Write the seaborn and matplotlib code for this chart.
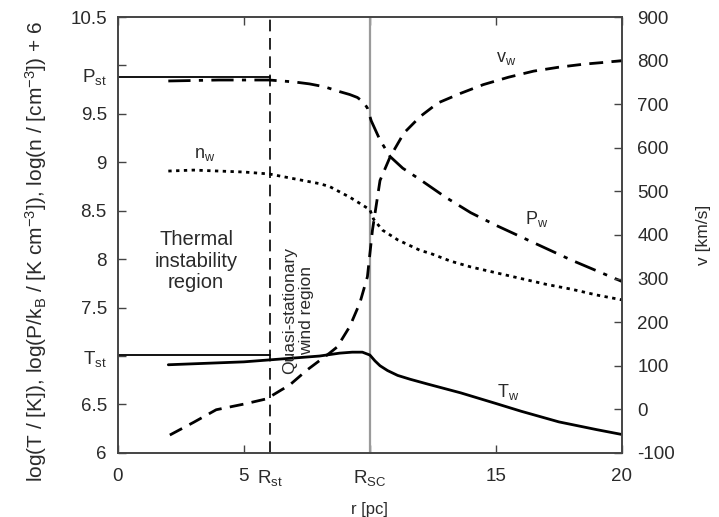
import numpy as np
import pandas as pd
import matplotlib
matplotlib.use("Agg")
import matplotlib.pyplot as plt
import matplotlib.transforms as mtransforms
import seaborn as sns

# ---- data ----
R_st = 6.05
R_sc = 10.0
P_st = 9.88
T_st = 7.01

r_P = [2.0, 3.0, 4.0, 5.0, 6.0, 7.0, 7.6, 8.2, 8.8, 9.2, 9.5, 9.75, 9.9, 10.05, 10.4, 10.8,
       11.3, 12.0, 13.0, 14.0, 15.0, 16.0, 17.0, 18.0, 19.0, 20.0]
P_w = [9.84, 9.845, 9.85, 9.85, 9.85, 9.83, 9.81, 9.78, 9.73, 9.70, 9.67, 9.62, 9.56, 9.43,
       9.23, 9.06, 8.94, 8.82, 8.64, 8.48, 8.35, 8.23, 8.11, 7.99, 7.88, 7.77]

r_n = [2.0, 3.0, 4.0, 5.0, 6.0, 7.0, 8.0, 8.4, 9.2, 9.7, 10.0, 10.15, 10.5, 11.1, 12.0, 12.4,
       13.2, 14.0, 15.0, 16.0, 17.0, 18.0, 19.0, 20.0]
n_w = [8.91, 8.92, 8.91, 8.90, 8.88, 8.83, 8.78, 8.75, 8.64, 8.56, 8.51, 8.41, 8.30, 8.20,
       8.09, 8.06, 7.98, 7.92, 7.86, 7.80, 7.74, 7.69, 7.63, 7.58]

r_T = [2.0, 3.0, 4.0, 5.0, 6.0, 7.0, 8.0, 8.8, 9.3, 9.7, 10.0, 10.2, 10.4, 10.7, 11.1, 11.6,
       12.3, 13.6, 15.0, 16.0, 17.5, 19.0, 20.0]
T_w = [6.91, 6.92, 6.93, 6.94, 6.96, 6.98, 7.00, 7.03, 7.04, 7.04, 7.01, 6.95, 6.90, 6.85,
       6.80, 6.76, 6.71, 6.62, 6.51, 6.43, 6.32, 6.24, 6.19]

r_v = [2.06, 3.0, 3.9, 5.0, 5.9, 6.5, 6.8, 7.5, 8.4, 8.7, 9.2, 9.6, 9.9, 10.1, 10.4, 10.8,
       11.35, 12.0, 12.7, 13.6, 14.5, 15.5, 16.5, 17.5, 18.5, 19.3, 20.0]
v_w = [-59, -30, -1, 12, 24, 45, 55, 90, 129, 143, 190, 244, 304, 411, 525, 579,
       634, 672, 703, 725, 745, 762, 776, 785, 792, 796, 800]

left_ticks = [6, 6.5, 7, 7.5, 8, 8.5, 9, 9.5, 10, 10.5]
left_labels = ["6", "6.5", "T$_{st}$", "7.5", "8", "8.5", "9", "9.5", "", "10.5"]
right_ticks = [-100, 0, 100, 200, 300, 400, 500, 600, 700, 800, 900]
x_ticks = [0, 5, 10, 15, 20]
x_labels = ["0", "5", "R$_{SC}$", "15", "20"]

# ---- style ----
sns.set_style("ticks")
plt.rcParams["font.family"] = ["Liberation Sans", "DejaVu Sans"]
plt.rcParams["mathtext.default"] = "regular"
TXT = "#2a2a2a"

fig = plt.figure(figsize=(7.19, 5.17), dpi=100)
ax = fig.add_axes([0.164, 0.124, 0.701, 0.843])
ax2 = ax.twinx()

df_P = pd.DataFrame({"r": r_P, "y": P_w})
df_n = pd.DataFrame({"r": r_n, "y": n_w})
df_T = pd.DataFrame({"r": r_T, "y": T_w})
df_v = pd.DataFrame({"r": r_v, "y": v_w})

# reference lines
ax.axvline(R_sc, color="#9a9a9a", lw=1.6, zorder=1)
ax.axvline(R_st, color="black", lw=1.2, dashes=(7, 4), zorder=1)
sns.lineplot(x=[0, R_st], y=[P_st, P_st], ax=ax, color="black", lw=1.3)
sns.lineplot(x=[0, R_st], y=[T_st, T_st], ax=ax, color="black", lw=1.3)

sns.lineplot(data=df_P, x="r", y="y", ax=ax, color="black", lw=2.0, sort=False)
ax.lines[-1].set_dashes((8, 3, 1.5, 3))
sns.lineplot(data=df_n, x="r", y="y", ax=ax, color="black", lw=2.0, sort=False)
ax.lines[-1].set_dashes((1.2, 1.6))
sns.lineplot(data=df_T, x="r", y="y", ax=ax, color="black", lw=2.0, sort=False)
sns.lineplot(data=df_v, x="r", y="y", ax=ax2, color="black", lw=2.0, sort=False)
ax2.lines[-1].set_dashes((5, 3))

# axes ranges / ticks
ax.set_xlim(0, 20)
ax.set_ylim(6, 10.5)
ax2.set_ylim(-100, 900)
ax.set_xticks(x_ticks)
ax.set_xticklabels(x_labels)
ax.set_yticks(left_ticks)
ax.set_yticklabels(left_labels)
ax2.set_yticks(right_ticks)
ax2.set_yticklabels([str(t) for t in right_ticks])

for a in (ax, ax2):
    a.tick_params(direction="in", length=6, width=1.0, colors="#444444",
                  labelcolor=TXT, labelsize=13.5, pad=8)
    for s in a.spines.values():
        s.set_visible(True)
        s.set_color("#444444")
        s.set_linewidth(1.2)
ax.tick_params(axis="x", top=True, pad=11)
ax.tick_params(axis="y", right=False, pad=8)
ax2.tick_params(axis="y", left=False, right=True, pad=11)

ax.set_xlabel("r [pc]", fontsize=12, color=TXT)
ax.xaxis.set_label_coords(0.5, -0.113)
ax.set_ylabel("log(T / [K]), log(P/k$_B$ / [K cm$^{-3}$]), log(n / [cm$^{-3}$]) + 6",
              fontsize=15, color=TXT)
ax.yaxis.set_label_coords(-0.136, 0.462)
ax2.set_ylabel("v [km/s]", fontsize=12.5, color=TXT, labelpad=15)

# extra axis annotations
ytr = mtransforms.blended_transform_factory(ax.transAxes, ax.transData)
ax.text(-0.022, P_st, "P$_{st}$", transform=ytr, ha="right", va="center",
        fontsize=13.5, color=TXT)
xtr = mtransforms.blended_transform_factory(ax.transData, ax.transAxes)
ax.text(R_st, -0.035, "R$_{st}$", transform=xtr, ha="center", va="top",
        fontsize=13.5, color=TXT)

# curve labels and region labels
ax.text(3.45, 9.08, "n$_w$", fontsize=13, color=TXT, ha="center", va="center")
ax.text(16.6, 8.42, "P$_w$", fontsize=13, color=TXT, ha="center", va="center")
ax.text(15.4, 10.07, "v$_w$", fontsize=13, color=TXT, ha="center", va="center")
ax.text(15.5, 6.63, "T$_w$", fontsize=13, color=TXT, ha="center", va="center")
ax.text(3.1, 7.98, "Thermal\ninstability\nregion", fontsize=14.5, color=TXT,
        ha="center", va="center", linespacing=1.15)
ax.text(7.15, 7.47, "Quasi-stationary\nwind region", fontsize=12.5, color=TXT,
        ha="center", va="center", rotation=90, linespacing=1.1)

fig.savefig("out.png", dpi=100)
